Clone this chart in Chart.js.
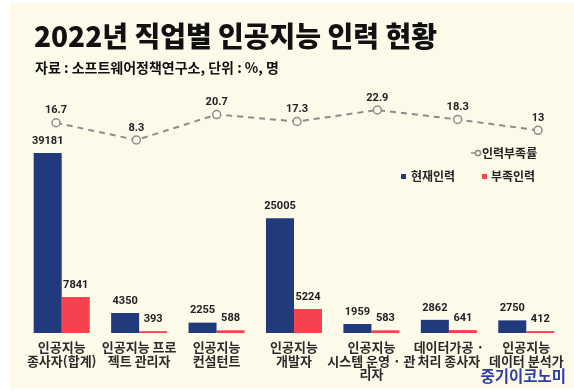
<!DOCTYPE html>
<html lang="ko">
<head>
<meta charset="utf-8">
<title>2022년 직업별 인공지능 인력 현황</title>
<script src="https://cdn.jsdelivr.net/npm/chart.js@4.4.1/dist/chart.umd.min.js"></script>
<style>
  html, body { margin: 0; padding: 0; background: #fff; }
  #wrap { position: relative; width: 574px; height: 392px; }
  #wrap canvas { position: absolute; left: 0; top: 0; }
</style>
</head>
<body>
<div id="wrap">
  <canvas id="chart" width="574" height="392"></canvas>
  <canvas id="rate" width="574" height="392"></canvas>
</div>
<script>
// 직업별 카테고리 (x축 라벨, 줄바꿈 포함)
const categories = [
    ['인공지능', '종사자(합계)'],
    ['인공지능 프로', '젝트 관리자'],
    ['인공지능', '컨설턴트'],
    ['인공지능', '개발자'],
    ['인공지능', '시스템 운영 · 관', '리자'],
    ['데이터가공 ·', '처리 종사자'],
    ['인공지능', '데이터 분석가']
];
const currentStaff = [39181, 4350, 2255, 25005, 1959, 2862, 2750];   // 현재인력 (명)
const shortageStaff = [7841, 393, 588, 5224, 583, 641, 412];         // 부족인력 (명)
const shortageRate = [16.7, 8.3, 20.7, 17.3, 22.9, 18.3, 13];        // 인력부족률 (%)

const titleText = '2022년 직업별 인공지능 인력 현황';
const sourceText = '자료 : 소프트웨어정책연구소, 단위 : %, 명';
const brandText = '중기이코노미';

const KR = "'Noto Sans CJK KR', 'Noto Sans', sans-serif";
const NUM = "Roboto, 'Liberation Sans', sans-serif";
const BLUE = '#213a7c';
const RED = '#f6414f';
const GREY = '#8c8c8c';
const CREAM = '#fdfaea';

// 두 차트가 같은 영역을 쓰도록 여백을 맞춤
const PAD = { top: 95, left: 23, right: 9 };

function drawValueLabels(chart) {
    const ctx = chart.ctx;
    ctx.save();
    ctx.textAlign = 'center';
    ctx.textBaseline = 'middle';
    ctx.fillStyle = '#222';
    ctx.font = 'bold 11px ' + NUM;
    chart.data.datasets.forEach((ds, di) => {
        chart.getDatasetMeta(di).data.forEach((el, i) => {
            const v = typeof ds.data[i] === 'object' ? ds.data[i].y : ds.data[i];
            ctx.fillText(String(v), el.x, el.y - 12);
        });
    });
    ctx.restore();
}

const decoPlugin = {
    id: 'deco',
    beforeDraw(chart) {
        const ctx = chart.ctx;
        ctx.save();
        ctx.fillStyle = '#fff';
        ctx.fillRect(0, 0, chart.width, chart.height);
        ctx.fillStyle = CREAM;
        ctx.fillRect(10, 3, chart.width - 10, 385);
        ctx.restore();
    },
    afterDatasetsDraw(chart) {
        drawValueLabels(chart);
    },
    afterDraw(chart) {
        const ctx = chart.ctx;
        const ds = chart.data.datasets;
        ctx.save();
        // 제목
        ctx.fillStyle = '#111';
        ctx.textBaseline = 'middle';
        ctx.textAlign = 'left';
        ctx.font = '900 28px ' + KR;
        ctx.fillText(titleText, 34, 36);
        ctx.font = 'bold 14px ' + KR;
        ctx.fillText(sourceText, 35, 68);

        // 범례 (막대)
        ctx.font = 'bold 12px ' + KR;
        ctx.fillStyle = ds[0].backgroundColor;
        ctx.fillRect(401, 174, 5, 5);
        ctx.fillStyle = '#222';
        ctx.fillText(ds[0].label, 411, 176);
        ctx.fillStyle = ds[1].backgroundColor;
        ctx.fillRect(482, 174, 5, 5);
        ctx.fillStyle = '#222';
        ctx.fillText(ds[1].label, 491, 176);

        // 출처 로고
        ctx.textAlign = 'right';
        ctx.font = 'bold 15.5px ' + KR;
        ctx.fillStyle = '#2c3fa0';
        ctx.fillText(brandText, 566, 376);
        ctx.restore();
    }
};

const ratePlugin = {
    id: 'rateDeco',
    afterDatasetsDraw(chart) {
        drawValueLabels(chart);
    },
    afterDraw(chart) {
        const ctx = chart.ctx;
        const ds = chart.data.datasets[0];
        ctx.save();
        // 범례 (선)
        ctx.strokeStyle = ds.borderColor;
        ctx.lineWidth = 1.5;
        ctx.beginPath();
        ctx.moveTo(471, 153);
        ctx.lineTo(475, 153);
        ctx.stroke();
        ctx.beginPath();
        ctx.arc(478, 153, 2.6, 0, Math.PI * 2);
        ctx.fillStyle = CREAM;
        ctx.fill();
        ctx.stroke();
        ctx.fillStyle = '#222';
        ctx.textBaseline = 'middle';
        ctx.textAlign = 'left';
        ctx.font = 'bold 12px ' + KR;
        ctx.fillText(ds.label, 482, 153);
        ctx.restore();
    }
};

// 막대 차트: 현재인력 / 부족인력
const barChart = new Chart(document.getElementById('chart').getContext('2d'), {
    type: 'bar',
    data: {
        labels: categories,
        datasets: [
            {
                label: '현재인력',
                data: currentStaff,
                backgroundColor: BLUE,
                categoryPercentage: 0.724,
                barPercentage: 1.0
            },
            {
                label: '부족인력',
                data: shortageStaff,
                backgroundColor: RED,
                categoryPercentage: 0.724,
                barPercentage: 1.0
            }
        ]
    },
    options: {
        responsive: false,
        animation: false,
        layout: { padding: { top: PAD.top, left: PAD.left, right: PAD.right, bottom: 0 } },
        plugins: {
            legend: { display: false },
            title: { display: false },
            tooltip: { enabled: false }
        },
        scales: {
            x: {
                grid: { display: false, drawTicks: false },
                border: { display: false },
                ticks: {
                    color: '#2b2b2b',
                    padding: 7,
                    autoSkip: false,
                    maxRotation: 0,
                    font: { family: KR, size: 13, weight: 'bold', lineHeight: 1.06 }
                },
                afterFit(scale) { scale.height = 59; }
            },
            y: {
                display: false,
                min: 0,
                max: 51806
            }
        }
    },
    plugins: [decoPlugin]
});

// 선 차트: 인력부족률 (위에 겹쳐 그림)
const rateChart = new Chart(document.getElementById('rate').getContext('2d'), {
    type: 'line',
    data: {
        datasets: [{
            label: '인력부족률',
            data: shortageRate.map((v, i) => ({ x: i, y: v })),
            borderColor: GREY,
            borderWidth: 2,
            borderDash: [6, 5],
            pointRadius: 4,
            pointBorderWidth: 1.5,
            pointBackgroundColor: CREAM,
            pointBorderColor: GREY,
            tension: 0
        }]
    },
    options: {
        responsive: false,
        animation: false,
        layout: { padding: { top: PAD.top, left: PAD.left, right: PAD.right, bottom: 59 } },
        plugins: {
            legend: { display: false },
            title: { display: false },
            tooltip: { enabled: false }
        },
        scales: {
            x: { type: 'linear', display: false, min: -0.411, max: 6.336 },
            y: { display: false, min: -85.6, max: 30.2 }
        }
    },
    plugins: [ratePlugin]
});
</script>
</body>
</html>
